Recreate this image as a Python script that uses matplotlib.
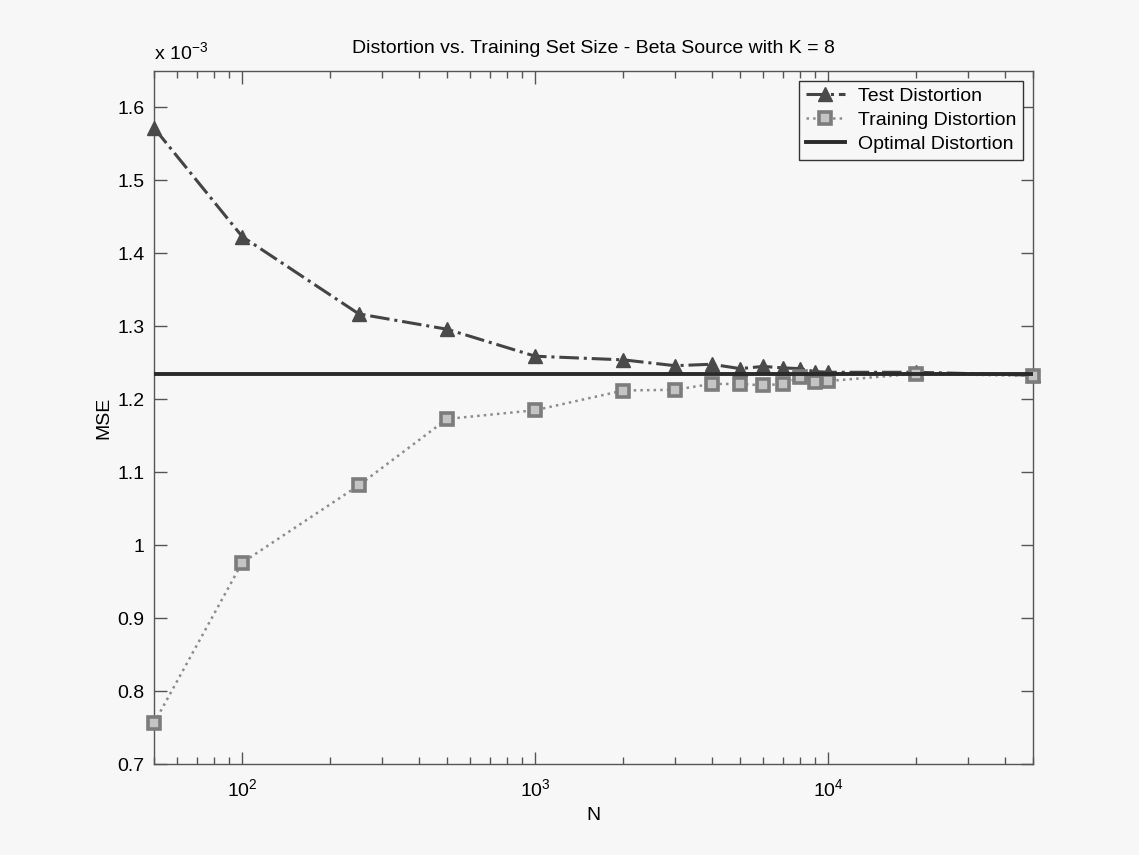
import numpy as np
import matplotlib
matplotlib.use('Agg')
import matplotlib.pyplot as plt
from matplotlib.ticker import FixedLocator, FuncFormatter, LogLocator, LogFormatterMathtext, NullFormatter

plt.rcParams['font.family'] = ['Liberation Sans', 'DejaVu Sans']
plt.rcParams['mathtext.fontset'] = 'custom'
plt.rcParams['mathtext.rm'] = 'Liberation Sans'
plt.rcParams['mathtext.it'] = 'Liberation Sans'
plt.rcParams['mathtext.default'] = 'rm'

# training set sizes and distortions (MSE)
N = [50, 100, 250, 500, 1000, 2000, 3000, 4000, 5000, 6000, 7000, 8000, 9000, 10000, 20000, 50000]
test_mse = [1.572e-3, 1.423e-3, 1.317e-3, 1.296e-3, 1.259e-3, 1.254e-3, 1.246e-3, 1.248e-3,
            1.242e-3, 1.245e-3, 1.243e-3, 1.242e-3, 1.238e-3, 1.237e-3, 1.237e-3, 1.233e-3]
train_mse = [0.756e-3, 0.976e-3, 1.082e-3, 1.173e-3, 1.185e-3, 1.212e-3, 1.213e-3, 1.221e-3,
             1.221e-3, 1.219e-3, 1.221e-3, 1.230e-3, 1.223e-3, 1.225e-3, 1.235e-3, 1.232e-3]
optimal_mse = 1.234e-3
y_ticks = [0.7e-3, 0.8e-3, 0.9e-3, 1.0e-3, 1.1e-3, 1.2e-3, 1.3e-3, 1.4e-3, 1.5e-3, 1.6e-3]

BG = '#f7f7f7'
FS = 14
fig = plt.figure(figsize=(11.39, 8.55), dpi=100, facecolor=BG)
ax = fig.add_axes([0.1352, 0.1064, 0.7718, 0.8106], facecolor=BG)

ax.plot(N, test_mse, linestyle='-.', color='#444444', linewidth=2.2, marker='^',
        markersize=10.5, markerfacecolor='#4a4a4a', markeredgecolor='#4a4a4a',
        label='Test Distortion', clip_on=False, zorder=3)
ax.plot(N, train_mse, linestyle=':', color='#8c8c8c', linewidth=1.8, marker='s',
        markersize=8.5, markerfacecolor='#c4c4c4', markeredgecolor='#7c7c7c', markeredgewidth=2.6,
        label='Training Distortion', clip_on=False, zorder=3)
ax.axhline(optimal_mse, color='#2a2a2a', linewidth=2.8, label='Optimal Distortion', zorder=4)

ax.set_xscale('log')
ax.set_xlim(50, 50000)
ax.set_ylim(0.7e-3, 1.65e-3)
ax.yaxis.set_major_locator(FixedLocator(y_ticks))
ax.yaxis.set_major_formatter(FuncFormatter(lambda v, p: f"{v * 1e3:g}"))
ax.xaxis.set_major_locator(LogLocator(base=10))
ax.xaxis.set_major_formatter(LogFormatterMathtext())
ax.xaxis.set_minor_locator(LogLocator(base=10, subs=np.arange(2, 10)))
ax.xaxis.set_minor_formatter(NullFormatter())

for s in ax.spines.values():
    s.set_color('#555555'); s.set_linewidth(1.0)
ax.tick_params(which='both', direction='in', top=True, right=True, colors='#555555',
               labelcolor='black', labelsize=FS)
ax.tick_params(which='major', length=9, width=1.0)
ax.tick_params(which='minor', length=5, width=1.0)
ax.tick_params(axis='x', which='major', pad=10)
ax.tick_params(axis='y', which='major', pad=7)

ax.set_xlabel('N', fontsize=FS, labelpad=5)
ax.set_ylabel('MSE', fontsize=FS, labelpad=3)
ax.set_title('Distortion vs. Training Set Size - Beta Source with K = 8', fontsize=FS, pad=13)
ax.text(0.0, 1.012, r'x 10$^{-3}$', transform=ax.transAxes, fontsize=FS, ha='left', va='bottom')

leg = ax.legend(loc='upper right', fontsize=FS, frameon=True, fancybox=False,
                borderaxespad=0.5, handlelength=2.0, handletextpad=0.7, labelspacing=0.32,
                borderpad=0.35, numpoints=1)
leg.get_frame().set_edgecolor('#333333')
leg.get_frame().set_facecolor(BG)
leg.get_frame().set_linewidth(1.0)
leg.get_frame().set_alpha(1.0)

fig.savefig('out.png', dpi=100, facecolor=BG)
